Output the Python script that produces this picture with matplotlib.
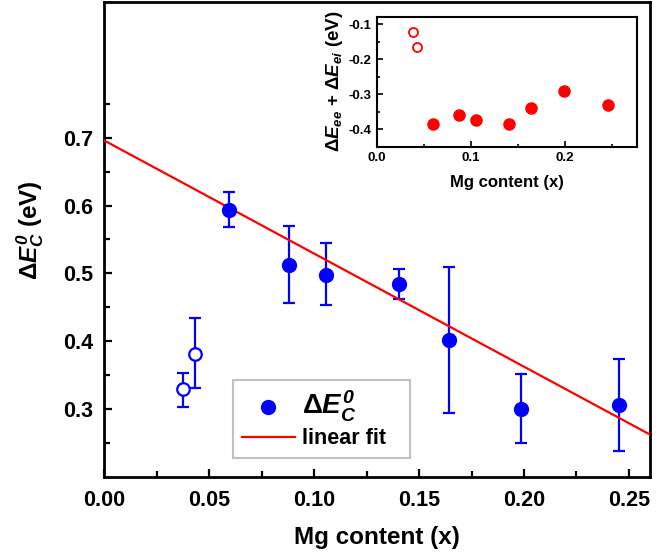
import matplotlib.pyplot as plt
from matplotlib.ticker import MultipleLocator, FixedLocator

plt.rcParams['font.family'] = ['Liberation Sans', 'DejaVu Sans']
plt.rcParams['font.weight'] = 'bold'
plt.rcParams['axes.unicode_minus'] = False
plt.rcParams['mathtext.fontset'] = 'custom'
plt.rcParams['mathtext.rm'] = 'Liberation Sans'
plt.rcParams['mathtext.it'] = 'Liberation Sans:bold:italic'
plt.rcParams['mathtext.sf'] = 'Liberation Sans:bold:italic'
plt.rcParams['mathtext.bf'] = 'Liberation Sans:bold'

# datos principales (puntos llenos)
x_lleno = [0.0595, 0.0879, 0.1059, 0.1404, 0.1643, 0.1988, 0.2454]
y_lleno = [0.594, 0.513, 0.498, 0.484, 0.402, 0.300, 0.306]
err_sup = [0.620, 0.570, 0.545, 0.507, 0.510, 0.352, 0.374]
err_inf = [0.568, 0.457, 0.453, 0.462, 0.295, 0.250, 0.238]

# puntos abiertos
x_abierto = [0.0375, 0.0431]
y_abierto = [0.329, 0.382]
err_sup_ab = [0.354, 0.435]
err_inf_ab = [0.303, 0.331]

# ajuste lineal
ordenada = 0.696
pendiente = -1.667
x_ajuste = [0.0, 0.26]

# datos del recuadro
x_ins_abierto = [0.0382, 0.0431]
y_ins_abierto = [-0.123, -0.164]
x_ins_lleno = [0.060, 0.0877, 0.1055, 0.1405, 0.164, 0.1993, 0.246]
y_ins_lleno = [-0.384, -0.358, -0.373, -0.384, -0.340, -0.292, -0.330]

azul = '#0000ff'
rojo = '#ff0000'
etiqueta_dE = r'$\Delta E_{\mathsf{C}}^{\mathsf{0}}$'

fig = plt.figure(figsize=(6.67, 5.56), dpi=100)
ax = fig.add_axes([0.156, 0.142, 0.8185, 0.8545])

# barras de error
yerr = [[y - lo for y, lo in zip(y_lleno, err_inf)],
        [hi - y for y, hi in zip(y_lleno, err_sup)]]
ax.errorbar(x_lleno, y_lleno, yerr=yerr, fmt='none', ecolor=azul,
            elinewidth=1.6, capsize=4.5, capthick=1.6, zorder=2)
yerr_ab = [[y - lo for y, lo in zip(y_abierto, err_inf_ab)],
           [hi - y for y, hi in zip(y_abierto, err_sup_ab)]]
ax.errorbar(x_abierto, y_abierto, yerr=yerr_ab, fmt='none', ecolor=azul,
            elinewidth=1.6, capsize=4.5, capthick=1.6, zorder=2)

ax.plot(x_lleno, y_lleno, 'o', color=azul, ms=10, zorder=4, label=etiqueta_dE)
ax.plot(x_abierto, y_abierto, 'o', mfc='white', mec=azul, mew=1.6, ms=9,
        zorder=4)

y_ajuste = [ordenada + pendiente * x for x in x_ajuste]
ax.plot(x_ajuste, y_ajuste, color=rojo, lw=1.6, zorder=3, label='linear fit')

ax.set_xlim(0, 0.26)
ax.set_ylim(0.2, 0.9)
ax.xaxis.set_major_locator(MultipleLocator(0.05))
ax.xaxis.set_minor_locator(MultipleLocator(0.025))
ax.yaxis.set_major_locator(FixedLocator([0.3, 0.4, 0.5, 0.6, 0.7]))
ax.yaxis.set_minor_locator(FixedLocator([0.25, 0.35, 0.45, 0.55, 0.65, 0.75]))
ax.tick_params(which='both', direction='in', width=1.6, labelsize=15.5)
ax.tick_params(which='major', length=6)
ax.tick_params(which='minor', length=4)
ax.tick_params(axis='x', pad=9)
ax.tick_params(axis='y', pad=8)
ax.xaxis.set_major_formatter(plt.FuncFormatter(lambda v, p: f'{v:.2f}'))
ax.yaxis.set_major_formatter(plt.FuncFormatter(lambda v, p: f'{v:.1f}'))
for s in ax.spines.values():
    s.set_linewidth(2)

ax.set_xlabel('Mg content (x)', fontsize=17.5, fontweight='bold', labelpad=11)
ax.set_ylabel(etiqueta_dE + ' (eV)', fontsize=17.5, fontweight='bold')
ax.yaxis.set_label_coords(-0.107, 0.52)

leg = ax.legend(loc='lower left', bbox_to_anchor=(0.236, 0.04, 0.324, 0.175),
                mode='expand', fontsize=15.5, fancybox=False, framealpha=1,
                edgecolor='#c0c0c0', handlelength=2.5, handletextpad=0.3,
                borderpad=0.4, labelspacing=0.2, borderaxespad=0)
leg.get_frame().set_linewidth(1.5)
leg.get_texts()[0].set_fontsize(20)

# recuadro
axi = fig.add_axes([0.5648, 0.7362, 0.3898, 0.2338])
axi.plot(x_ins_abierto, y_ins_abierto, 'o', mfc='white', mec=rojo, mew=1.3,
         ms=6.5)
axi.plot(x_ins_lleno, y_ins_lleno, 'o', color=rojo, ms=8)
axi.set_xlim(0, 0.276)
axi.set_ylim(-0.45, -0.078)
axi.xaxis.set_major_locator(MultipleLocator(0.1))
axi.xaxis.set_minor_locator(MultipleLocator(0.05))
axi.yaxis.set_major_locator(FixedLocator([-0.4, -0.3, -0.2, -0.1]))
axi.yaxis.set_minor_locator(FixedLocator([-0.35, -0.25, -0.15]))
axi.tick_params(which='both', direction='in', width=1.2, labelsize=9.5)
axi.tick_params(which='major', length=4)
axi.tick_params(which='minor', length=2.5)
for s in axi.spines.values():
    s.set_linewidth(1.5)
axi.set_xlabel('Mg content (x)', fontsize=12, fontweight='bold', labelpad=8)
axi.set_ylabel(r'$\Delta E_{\mathsf{ee}}$ + $\Delta E_{\mathsf{ei}}$ (eV)',
               fontsize=13.5, fontweight='bold', labelpad=3)

fig.savefig('out.png', dpi=100)
